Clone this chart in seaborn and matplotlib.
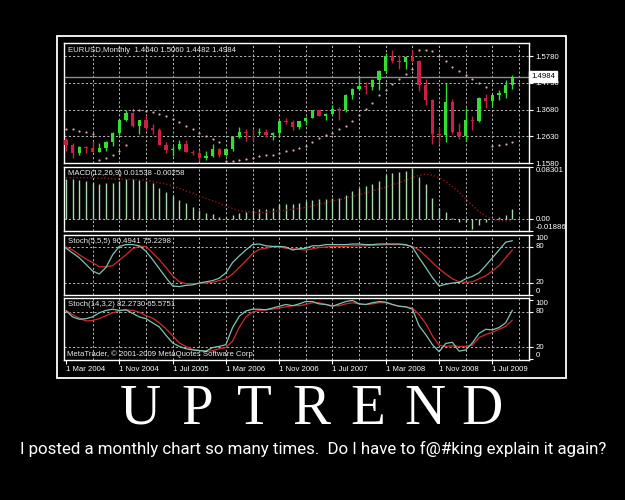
import matplotlib
matplotlib.use('Agg')
import matplotlib.pyplot as plt
from matplotlib.patches import Rectangle
from matplotlib import font_manager as fm
import numpy as np
import pandas as pd
import seaborn as sns

# ---------------- data ----------------
months = pd.date_range('2004-03-01', periods=68, freq='MS')
date_labels = ["1 Mar 2004", "1 Nov 2004", "1 Jul 2005", "1 Mar 2006", "1 Nov 2006",
               "1 Jul 2007", "1 Mar 2008", "1 Nov 2008", "1 Jul 2009"]

opens = [1.250, 1.229, 1.197, 1.220, 1.216, 1.203, 1.217, 1.242, 1.278, 1.329,
         1.355, 1.304, 1.326, 1.296, 1.287, 1.230, 1.210, 1.212, 1.234, 1.203,
         1.199, 1.179, 1.184, 1.215, 1.191, 1.212, 1.262, 1.280, 1.278, 1.276,
         1.281, 1.268, 1.276, 1.324, 1.320, 1.299, 1.323, 1.335, 1.365, 1.344,
         1.352, 1.369, 1.365, 1.426, 1.448, 1.463, 1.459, 1.483, 1.519, 1.579,
         1.560, 1.555, 1.576, 1.560, 1.467, 1.407, 1.273, 1.269, 1.400, 1.280,
         1.266, 1.328, 1.324, 1.415, 1.403, 1.425, 1.432, 1.4640]
highs = [1.256, 1.236, 1.225, 1.226, 1.243, 1.235, 1.243, 1.280, 1.332, 1.367,
         1.358, 1.329, 1.347, 1.310, 1.294, 1.240, 1.226, 1.248, 1.250, 1.211,
         1.210, 1.204, 1.232, 1.216, 1.217, 1.263, 1.298, 1.291, 1.290, 1.295,
         1.290, 1.280, 1.328, 1.336, 1.327, 1.325, 1.338, 1.368, 1.366, 1.354,
         1.385, 1.377, 1.428, 1.453, 1.497, 1.476, 1.488, 1.524, 1.590, 1.602,
         1.582, 1.580, 1.604, 1.563, 1.487, 1.411, 1.300, 1.472, 1.410, 1.314,
         1.374, 1.343, 1.418, 1.430, 1.425, 1.445, 1.484, 1.5060]
lows = [1.205, 1.176, 1.190, 1.198, 1.203, 1.200, 1.205, 1.225, 1.270, 1.323,
        1.298, 1.273, 1.287, 1.273, 1.229, 1.196, 1.187, 1.211, 1.200, 1.188,
        1.164, 1.171, 1.183, 1.182, 1.186, 1.205, 1.255, 1.245, 1.246, 1.270,
        1.262, 1.248, 1.266, 1.310, 1.286, 1.293, 1.306, 1.334, 1.342, 1.326,
        1.351, 1.326, 1.358, 1.409, 1.444, 1.430, 1.445, 1.444, 1.514, 1.551,
        1.528, 1.530, 1.556, 1.443, 1.388, 1.233, 1.233, 1.242, 1.273, 1.251,
        1.245, 1.288, 1.319, 1.373, 1.383, 1.405, 1.415, 1.4482]
closes = [1.229, 1.197, 1.220, 1.216, 1.203, 1.217, 1.242, 1.278, 1.329, 1.355,
          1.304, 1.326, 1.296, 1.287, 1.230, 1.210, 1.212, 1.234, 1.203, 1.199,
          1.179, 1.184, 1.215, 1.191, 1.212, 1.262, 1.280, 1.278, 1.276, 1.281,
          1.268, 1.276, 1.324, 1.320, 1.299, 1.323, 1.335, 1.365, 1.344, 1.352,
          1.369, 1.365, 1.426, 1.448, 1.463, 1.459, 1.483, 1.519, 1.579, 1.560,
          1.555, 1.576, 1.560, 1.467, 1.407, 1.273, 1.269, 1.400, 1.280, 1.266,
          1.328, 1.324, 1.415, 1.403, 1.425, 1.432, 1.464, 1.4984]
sar = [1.293, 1.290, 1.285, 1.279, 1.272, 1.171, 1.178, 1.188, 1.205, 1.228,
       1.367, 1.365, 1.362, 1.358, 1.352, 1.342, 1.330, 1.318, 1.305, 1.290,
       1.278, 1.265, 1.252, 1.242, 1.164, 1.166, 1.170, 1.175, 1.179, 1.184,
       1.188, 1.191, 1.197, 1.204, 1.210, 1.217, 1.224, 1.241, 1.256, 1.267,
       1.276, 1.290, 1.305, 1.325, 1.345, 1.370, 1.395, 1.425, 1.444, 1.470,
       1.490, 1.510, 1.530, 1.604, 1.604, 1.597, 1.578, 1.559, 1.536, 1.519,
       1.506, 1.489, 1.473, 1.457, 1.225, 1.228, 1.233, 1.241]
price_levels = [1.5780, 1.4730, 1.3680, 1.2630, 1.1580]

macd_hist = [.0635, .0635, .0624, .0608, .058, .0553, .057, .058, .0608, .0635,
             .0635, .0624, .0608, .058, .050, .0429, .0363, .0298, .0255, .019,
             .0146, .0092, .0076, .0038, .0027, .0065, .0092, .0119, .0146, .0157,
             .0163, .0174, .0239, .0239, .0244, .0255, .0282, .031, .032, .032,
             .0336, .0336, .039, .0445, .050, .0526, .0553, .0608, .070, .0732,
             .0743, .077, .0808, .0678, .0553, .0336, .0174, .0119, .0011, -.0043,
             -.0043, -.0152, -.0098, -.0043, -.0005, .0027, .0065, .01538]
macd_signal = [.066, .066, .066, .066, .066, .065, .065, .064, .064, .0635,
               .0635, .0625, .062, .060, .058, .056, .053, .049, .045, .0418,
               .037, .033, .029, .0255, .021, .017, .014, .012, .011, .0103,
               .011, .012, .013, .014, .0157, .017, .019, .021, .024, .026,
               .029, .031, .034, .036, .039, .042, .045, .048, .051, .055,
               .058, .062, .066, .070, .0716, .070, .066, .060, .052, .043,
               .032, .022, .012, .005, .0, -.003, -.003, -.00258]
macd_range = [-0.01886, 0.08301]

stoch5_main = [78, 70, 62, 51, 40, 35, 46, 67, 81, 84,
               84, 82, 73, 59, 44, 29, 15, 14, 16, 17,
               20, 22, 24, 28, 37, 54, 65, 75, 84, 85,
               82, 81, 81, 80, 75, 77, 78, 82, 82, 84,
               84, 84, 84, 85, 85, 84, 84, 85, 85, 85,
               85, 84, 80, 62, 46, 29, 15, 18, 20, 21,
               27, 31, 37, 49, 62, 75, 88, 90.4941]
stoch5_sig = [80, 75, 67, 60, 54, 47, 47, 49, 58, 67,
              77, 81, 81, 70, 59, 46, 32, 22, 19, 19,
              19, 20, 21, 24, 27, 35, 46, 57, 69, 76,
              78, 80, 80, 78, 77, 76, 75, 77, 79, 80,
              81, 81, 81, 82, 82, 82, 83, 83, 84, 84,
              84, 83, 81, 75, 65, 54, 44, 35, 27, 22,
              21, 22, 27, 32, 40, 49, 62, 75.2298]
stoch14_main = [81, 71, 67, 68, 71, 78, 82, 84, 82, 83,
                77, 71, 68, 61, 54, 40, 27, 21, 17, 15,
                14, 13, 19, 21, 24, 53, 72, 81, 84, 84,
                83, 86, 89, 92, 90, 93, 97, 97, 93, 92,
                89, 93, 97, 99, 93, 92, 95, 97, 96, 92,
                89, 88, 84, 56, 41, 24, 12, 26, 28, 13,
                15, 27, 43, 50, 49, 53, 61, 82.2730]
stoch14_sig = [82, 75, 69, 64, 65, 68, 73, 78, 81, 83,
               82, 79, 73, 69, 61, 51, 39, 27, 21, 16,
               14, 12, 14, 17, 19, 30, 53, 71, 79, 82,
               83, 84, 86, 88, 90, 90, 92, 95, 95, 92,
               90, 90, 93, 95, 93, 92, 93, 95, 95, 92,
               89, 88, 86, 75, 60, 39, 23, 21, 22, 21,
               21, 23, 36, 41, 45, 50, 55, 65.5751]
stoch_levels = [100, 80, 20, 0]

title_word = "UPTREND"
caption = "I posted a monthly chart so many times.  Do I have to f@#king explain it again?"
copyright_txt = "MetaTrader, © 2001-2009 MetaQuotes Software Corp."

# ---------------- style ----------------
sns.set_theme(style='dark', rc={'axes.facecolor': 'black', 'figure.facecolor': 'black',
                                'axes.edgecolor': 'white', 'text.color': 'white',
                                'xtick.color': 'white', 'ytick.color': 'white',
                                'axes.grid': False})
plt.rcParams['font.family'] = ['Liberation Sans', 'DejaVu Sans']

names = {f.name for f in fm.fontManager.ttflist}
def pick(cands):
    for c in cands:
        if c in names:
            return c
    return cands[-1]

W, H = 625, 500
fig = plt.figure(figsize=(6.25, 5), dpi=100)
fig.patch.set_facecolor('black')

def px_box(l, t, r, b):
    return [l / W, 1 - b / H, (r - l) / W, (b - t) / H]

GRID = '#b8b8b8'
DASH = (0, (2.2, 2.2))
SMALL = 5.6
GREEN = '#33dd33'
RED = '#cc1f44'
TEAL = '#7fc4b4'
SRED = '#d42a2a'
BARC = '#a8d8a8'
x = np.arange(len(months))
XLIM = (-0.3, 69.5)

def setup(ax, ylim, yticks, ylabels, hlines, vas=None):
    ax.set_facecolor('black')
    ax.set_xlim(*XLIM)
    ax.set_ylim(*ylim)
    for s in ax.spines.values():
        s.set_color('white')
        s.set_linewidth(1.0)
    for gx in range(4, 69, 4):
        ax.axvline(gx, color=GRID, lw=0.7, ls=DASH, zorder=1)
    for hy in hlines:
        ax.axhline(hy, color=GRID, lw=0.7, ls=DASH, zorder=1)
    ax.yaxis.tick_right()
    ax.set_yticks(yticks)
    ax.set_yticklabels(ylabels)
    ax.tick_params(axis='y', length=3, width=0.8, pad=1.5, labelsize=SMALL,
                   colors='white', right=True, left=False)
    ax.set_xticks([])
    ax.set_xlabel('')
    ax.set_ylabel('')
    if vas:
        for lab, va in zip(ax.get_yticklabels(), vas):
            lab.set_va(va)

# ---------------- main price panel ----------------
ax1 = fig.add_axes(px_box(64, 43, 529, 163))
setup(ax1, (1.158, 1.6304), price_levels, [f"{p:.4f}" for p in price_levels], price_levels[:-1])
o = np.array(opens); h = np.array(highs); l = np.array(lows); c = np.array(closes)
cols = np.where(c >= o, GREEN, RED)
ax1.vlines(x, l, h, colors=cols, lw=1.0, zorder=3)
ax1.bar(x, np.maximum(np.abs(c - o), 0.0018), bottom=np.minimum(o, c), width=0.5,
        color=cols, linewidth=0, zorder=4)
sns.scatterplot(x=x, y=sar, ax=ax1, s=2.5, color='#d8a8a8', linewidth=0, zorder=5, legend=False)
ax1.axhline(closes[-1], color='#8c8c8c', lw=1.0, zorder=2)
ax1.set_xlabel(''); ax1.set_ylabel('')
ax1.text(1.004, closes[-1], f"{closes[-1]:.4f}", transform=ax1.get_yaxis_transform(),
         ha='left', va='center', fontsize=SMALL, color='black', zorder=10, clip_on=False,
         bbox=dict(boxstyle='square,pad=0.25', fc='white', ec='white'))
ax1.text(0.009, 0.97, f"EURUSD,Monthly  {opens[-1]:.4f} {highs[-1]:.4f} {lows[-1]:.4f} {closes[-1]:.4f}",
         transform=ax1.transAxes, va='top', ha='left', fontsize=SMALL, color='#ececec')

# ---------------- MACD panel ----------------
ax2 = fig.add_axes(px_box(64, 167, 529, 231))
setup(ax2, tuple(macd_range), [macd_range[1], 0.0, macd_range[0]],
      [f"{macd_range[1]:.5f}", "0.00", f"{macd_range[0]:.5f}"], [0.0],
      vas=['top', 'center', 'bottom'])
ax2.vlines(x, 0, macd_hist, colors=BARC, lw=1.0, zorder=3)
sns.lineplot(x=x, y=macd_signal, ax=ax2, color='#8a1818', lw=1.0, linestyle=(0, (1, 1.5)),
             zorder=4, legend=False)
ax2.set_xlabel(''); ax2.set_ylabel('')
ax2.text(0.009, 0.95, f"MACD(12,26,9) {macd_hist[-1]:.5f} {macd_signal[-1]:.5f}",
         transform=ax2.transAxes, va='top', ha='left', fontsize=SMALL, color='#ececec')

# ---------------- stochastic panels ----------------
def stoch_panel(box, main, sig, label, ylim):
    ax = fig.add_axes(px_box(*box))
    setup(ax, ylim, stoch_levels, [str(v) for v in stoch_levels], [80, 20],
          vas=['top', 'center', 'center', 'bottom'])
    df = pd.DataFrame({'x': x, 'main': main, 'sig': sig})
    sns.lineplot(data=df, x='x', y='sig', ax=ax, color=SRED, lw=0.9, zorder=3, legend=False)
    sns.lineplot(data=df, x='x', y='main', ax=ax, color=TEAL, lw=0.9, zorder=4, legend=False)
    ax.set_xlabel(''); ax.set_ylabel('')
    ax.text(0.009, 0.95, f"{label} {main[-1]:.4f} {sig[-1]:.4f}",
            transform=ax.transAxes, va='top', ha='left', fontsize=SMALL, color='#ececec', zorder=6)
    return ax

ax3 = stoch_panel((64, 235, 529, 295), stoch5_main, stoch5_sig, "Stoch(5,5,5)", (1, 100))
ax4 = stoch_panel((64, 298, 529, 360), stoch14_main, stoch14_sig, "Stoch(14,3,2)", (-2, 103))
ax4.set_xticks(range(0, 68, 8))
ax4.set_xticklabels(date_labels)
ax4.tick_params(axis='x', length=3, width=0.8, pad=1.0, labelsize=SMALL, colors='white', bottom=True)
for lab in ax4.get_xticklabels():
    lab.set_ha('left')
ax4.text(0.006, 0.04, copyright_txt, transform=ax4.transAxes, va='bottom', ha='left',
         fontsize=SMALL, color='#ececec', zorder=6)

# ---------------- poster frame and texts ----------------
fig.add_artist(Rectangle((57 / W, 1 - 378 / H), (566 - 57) / W, (378 - 36) / H,
                         transform=fig.transFigure, fill=False, ec='white', lw=1.3))

serif = pick(['Liberation Serif', 'DejaVu Serif'])
for k, ch in enumerate(title_word):
    lx = 140 + k * 57
    fig.text(lx / W, 1 - 424 / H, ch, ha='center', va='baseline', fontsize=41,
             family=serif, color='white')

capfont = pick(['Liberation Sans Narrow', 'Roboto', 'DejaVu Sans'])
cap = fig.text(313 / W, 1 - 454 / H, caption, ha='center', va='baseline', fontsize=11,
               family=capfont, color='white')
fig.canvas.draw()
wpx = cap.get_window_extent(fig.canvas.get_renderer()).width
cap.set_fontsize(11 * 585 / wpx)

fig.savefig('out.png', dpi=100, facecolor='black')
